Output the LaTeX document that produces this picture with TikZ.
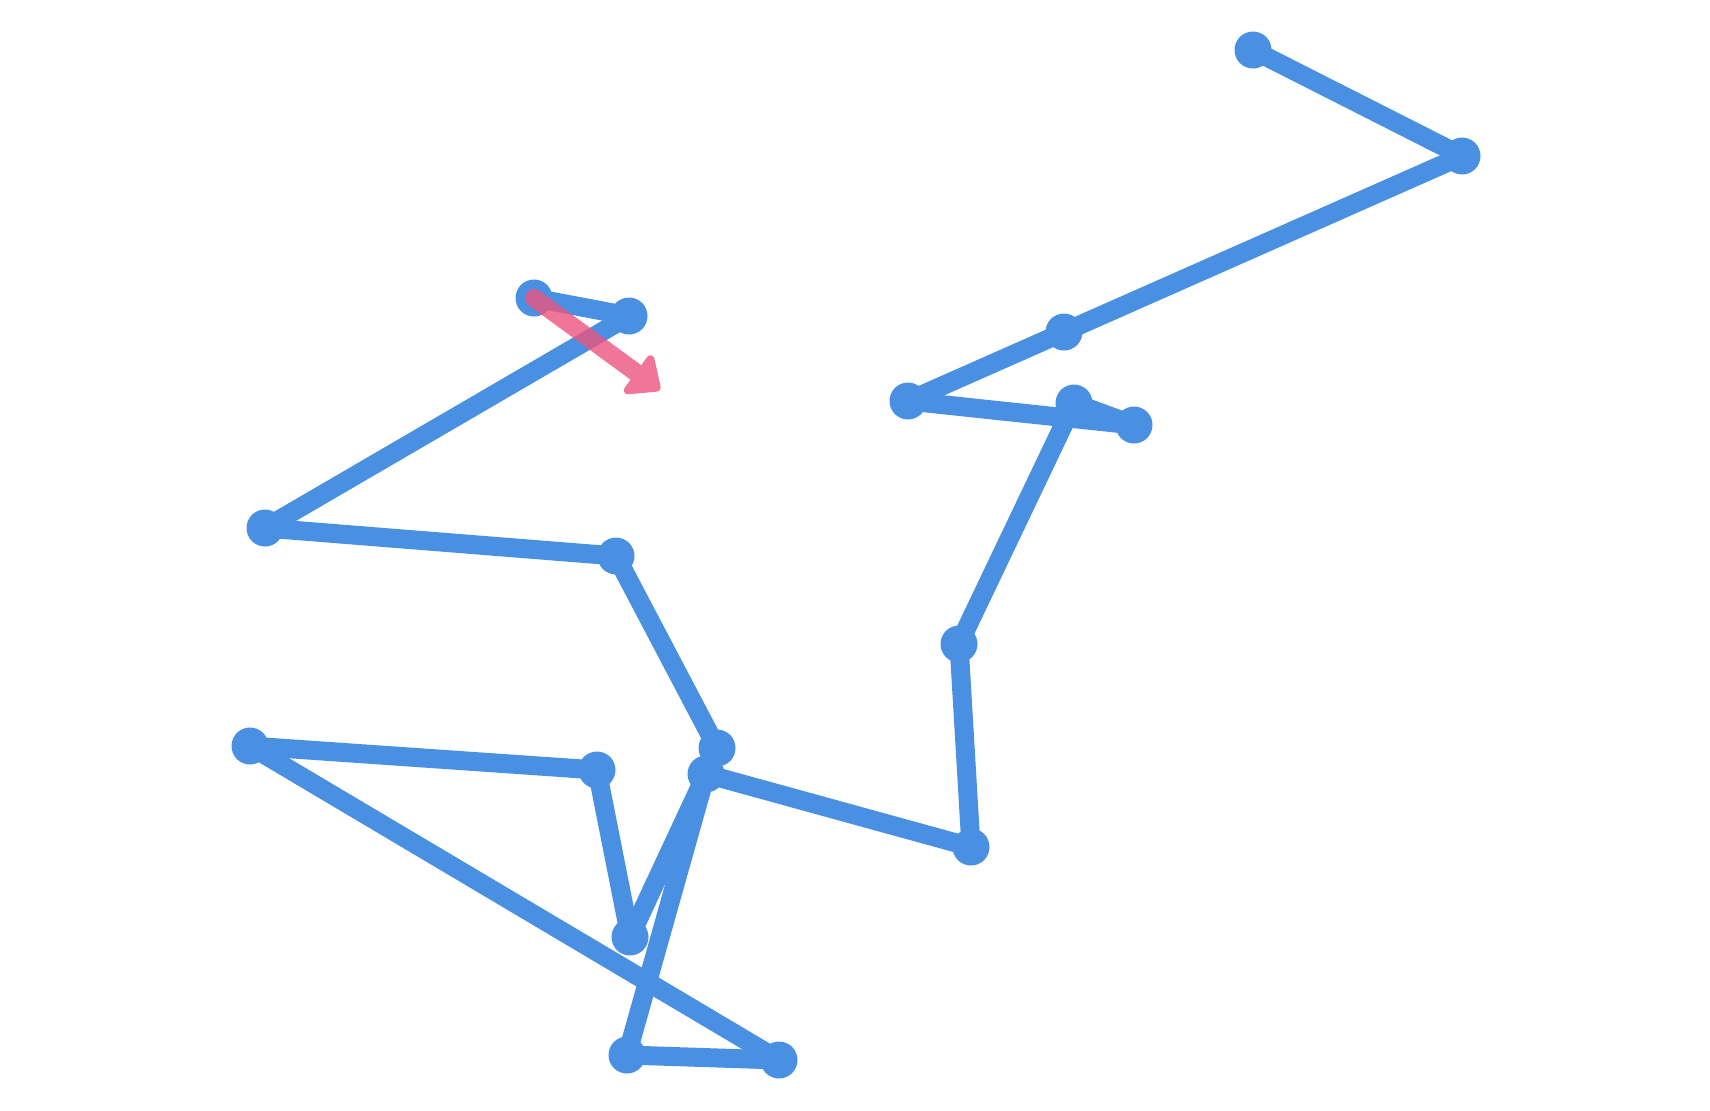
\documentclass[tikz,border=0pt]{standalone}
\usepackage{tikz}
\usetikzlibrary{arrows.meta}

\definecolor{pathblue}{RGB}{74,144,226}
\definecolor{movepink}{RGB}{236,84,128}

\tikzset{
	dot/.style={circle,fill=pathblue,inner sep=0pt,minimum size=18.5pt},
	edge/.style={draw=pathblue,line width=9.5pt,line cap=round,line join=round},
	move/.style={draw=movepink,fill=movepink,line width=9pt,line cap=round,line join=round,
		-{Triangle[length=16pt,width=27pt,round]}}
}

\begin{document}
\begin{tikzpicture}[x=.5pt,y=-.5pt]

	\useasboundingbox (0,0) rectangle (1710,1110);

	\node[dot] (a) at (1253,50) {};
	\node[dot] (b) at (1462,156) {};
	\node[dot] (c) at (1064,332) {};
	\node[dot] (d) at (908,401) {};
	\node[dot] (e) at (1134,425) {};
	\node[dot] (f) at (1074,403) {};
	\node[dot] (g) at (959,644) {};
	\node[dot] (h) at (971,847) {};
	\node[dot] (i) at (706,774) {};
	\node[dot] (j) at (717,748) {};
	\node[dot] (k) at (616,556) {};
	\node[dot] (l) at (265,528) {};
	\node[dot] (m) at (629,316) {};
	\node[dot] (n) at (534,298) {};
	\node[dot] (o) at (597,770) {};
	\node[dot] (p) at (250,746) {};
	\node[dot] (q) at (779,1060) {};
	\node[dot] (r) at (627,1055) {};
	\node[dot] (s) at (630,937) {};
	\coordinate (tip) at (660,390);

	\draw[edge] (a.center) -- (b.center);
	\draw[edge] (b.center) -- (c.center);
	\draw[edge] (c.center) -- (d.center);
	\draw[edge] (d.center) -- (e.center);
	\draw[edge] (e.center) -- (f.center);
	\draw[edge] (f.center) -- (g.center);
	\draw[edge] (g.center) -- (h.center);
	\draw[edge] (h.center) -- (i.center);
	\draw[edge] (i.center) -- (r.center);
	\draw[edge] (r.center) -- (q.center);
	\draw[edge] (q.center) -- (p.center);
	\draw[edge] (p.center) -- (o.center);
	\draw[edge] (o.center) -- (s.center);
	\draw[edge] (s.center) -- (i.center);
	\draw[edge] (i.center) -- (j.center);
	\draw[edge] (j.center) -- (k.center);
	\draw[edge] (k.center) -- (l.center);
	\draw[edge] (l.center) -- (m.center);
	\draw[edge] (m.center) -- (n.center);

	% last step
	\begin{scope}[transparency group,opacity=.8]
	\draw[move] (n.center) -- (tip);
	\end{scope}

\end{tikzpicture}
\end{document}
